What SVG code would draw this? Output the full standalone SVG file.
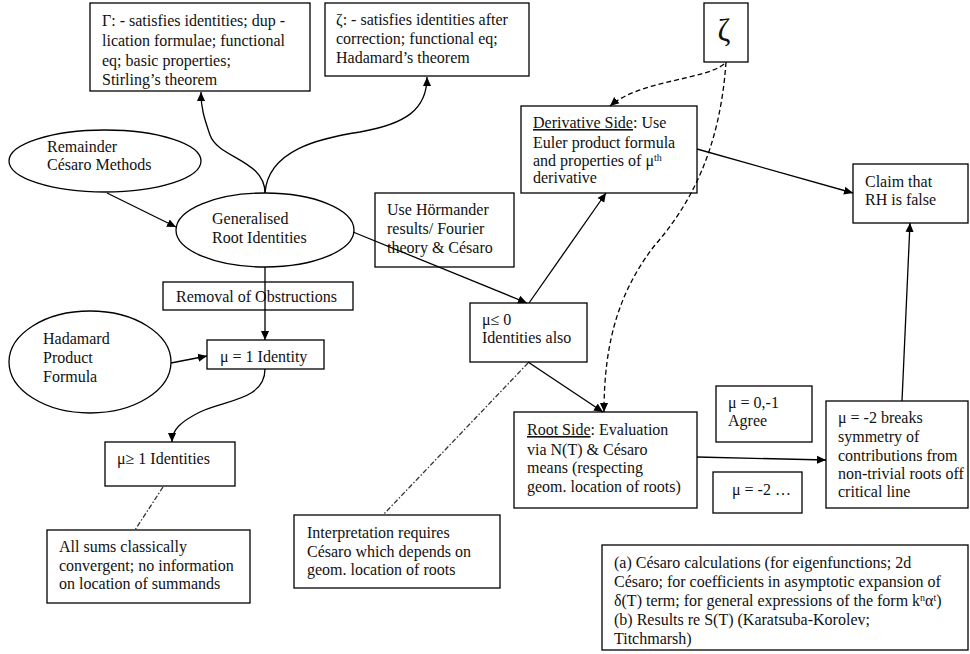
<svg xmlns="http://www.w3.org/2000/svg" width="970" height="654" viewBox="0 0 970 654">
<style>
  .box { fill: #fff; stroke: #000; stroke-width: 1.3; }
  .t { font-family: "Liberation Serif", "Times New Roman", serif; font-size: 16px; fill: #111; }
  .c { fill: none; stroke: #000; stroke-width: 1.3; }
  .dash { stroke-dasharray: 5 3; }
  .dd { stroke-dasharray: 5 2 1.5 2; stroke: #333; }
  .u { text-decoration: underline; }
  .sup { font-size: 10px; }
</style>
<defs>
  <marker id="arr" viewBox="0 0 10 10" refX="10" refY="5" markerWidth="9" markerHeight="9" markerUnits="userSpaceOnUse" orient="auto">
    <path d="M0,0.5 L10,5 L0,9.5 z" fill="#000"/>
  </marker>
</defs>
<rect width="970" height="654" fill="#fff"/>

<g id="gamma">
  <rect class="box" x="90" y="3" width="220" height="88"/>
  <text class="t" x="102" y="26">Γ: - satisfies identities;  dup -</text>
  <text class="t" x="102" y="46">lication formulae; functional</text>
  <text class="t" x="102" y="66">eq; basic properties;</text>
  <text class="t" x="102" y="85">Stirling’s  theorem</text>
</g>
<g id="zetaIdent">
  <rect class="box" x="325" y="3" width="204" height="73"/>
  <text class="t" x="336" y="25">ζ: - satisfies identities after</text>
  <text class="t" x="336" y="44">correction; functional eq;</text>
  <text class="t" x="336" y="63">Hadamard’s theorem</text>
</g>
<g id="zeta">
  <rect class="box" x="704" y="3" width="44" height="59"/>
  <text class="t" x="724" y="41" text-anchor="middle" style="font-size:31px">ζ</text>
</g>
<g id="derivative">
  <rect class="box" x="521" y="106" width="176" height="87"/>
  <text class="t" x="533" y="128"><tspan class="u">Derivative Side</tspan>: Use</text>
  <text class="t" x="533" y="148">Euler product formula</text>
  <text class="t" x="533" y="166">and properties of μ<tspan class="sup" dy="-5">th</tspan></text>
  <text class="t" x="533" y="183">derivative</text>
</g>
<g id="claim">
  <rect class="box" x="853" y="164" width="115" height="59"/>
  <text class="t" x="865" y="187">Claim that</text>
  <text class="t" x="865" y="205">RH is false</text>
</g>
<g id="remainder">
  <ellipse class="box" cx="105" cy="161" rx="96" ry="31"/>
  <text class="t" x="47" y="152">Remainder</text>
  <text class="t" x="47" y="170">Césaro Methods</text>
</g>
<g id="generalised">
  <ellipse class="box" cx="265" cy="230" rx="89" ry="37"/>
  <text class="t" x="212" y="224">Generalised</text>
  <text class="t" x="212" y="243">Root Identities</text>
</g>
<g id="hormander">
  <rect class="box" x="375" y="193" width="139" height="74"/>
  <text class="t" x="387" y="215">Use Hörmander</text>
  <text class="t" x="387" y="234">results/ Fourier</text>
  <text class="t" x="387" y="253">theory &amp; Césaro</text>
</g>
<g id="removal">
  <rect class="box" x="163" y="282" width="190" height="28"/>
  <text class="t" x="176" y="302">Removal of Obstructions</text>
</g>
<g id="hadamard">
  <ellipse class="box" cx="90" cy="362" rx="81" ry="51"/>
  <text class="t" x="43" y="344">Hadamard</text>
  <text class="t" x="43" y="363">Product</text>
  <text class="t" x="43" y="382">Formula</text>
</g>
<g id="mu1">
  <rect class="box" x="207" y="340" width="117" height="29"/>
  <text class="t" x="220" y="362">μ = 1 Identity</text>
</g>
<g id="mugeq1">
  <rect class="box" x="105" y="442" width="130" height="44"/>
  <text class="t" x="117" y="464">μ≥ 1 Identities</text>
</g>
<g id="allsums">
  <rect class="box" x="47" y="530" width="203" height="73"/>
  <text class="t" x="59" y="552">All sums classically</text>
  <text class="t" x="59" y="571">convergent; no information</text>
  <text class="t" x="59" y="589">on location of summands</text>
</g>
<g id="interpretation">
  <rect class="box" x="294" y="515" width="206" height="73"/>
  <text class="t" x="307" y="538">Interpretation requires</text>
  <text class="t" x="307" y="557">Césaro which depends on</text>
  <text class="t" x="307" y="575">geom. location of roots</text>
</g>
<g id="muleq0">
  <rect class="box" x="470" y="303" width="117" height="59"/>
  <text class="t" x="482" y="325">μ≤ 0</text>
  <text class="t" x="482" y="343">Identities also</text>
</g>
<g id="rootside">
  <rect class="box" x="514" y="412" width="183" height="96"/>
  <text class="t" x="527" y="435"><tspan class="u">Root Side</tspan>: Evaluation</text>
  <text class="t" x="527" y="455">via N(T)  &amp; Césaro</text>
  <text class="t" x="527" y="473">means (respecting</text>
  <text class="t" x="527" y="492">geom. location of roots)</text>
</g>
<g id="agree">
  <rect class="box" x="716" y="386" width="96" height="56"/>
  <text class="t" x="728" y="408">μ = 0,-1</text>
  <text class="t" x="728" y="426">Agree</text>
</g>
<g id="mu2dots">
  <rect class="box" x="713" y="472" width="89" height="41"/>
  <text class="t" x="732" y="495">μ = -2  …</text>
</g>
<g id="mu2breaks">
  <rect class="box" x="826" y="401" width="142" height="107"/>
  <text class="t" x="838" y="423">μ = -2 breaks</text>
  <text class="t" x="838" y="442">symmetry of</text>
  <text class="t" x="838" y="461">contributions from</text>
  <text class="t" x="838" y="479">non-trivial roots off</text>
  <text class="t" x="838" y="497">critical line</text>
</g>
<g id="notes">
  <rect class="box" x="602" y="545" width="366" height="105"/>
  <text class="t" x="614" y="568">(a) Césaro calculations (for eigenfunctions; 2d</text>
  <text class="t" x="614" y="587">Césaro; for coefficients in asymptotic expansion of</text>
  <text class="t" x="614" y="606">δ(T) term; for general expressions of the form k<tspan class="sup" dy="-5">n</tspan><tspan dy="5">α</tspan><tspan class="sup" dy="-5">t</tspan><tspan dy="5">)</tspan></text>
  <text class="t" x="614" y="625">(b) Results re S(T)  (Karatsuba-Korolev;</text>
  <text class="t" x="614" y="644">Titchmarsh)</text>
</g>

<g id="connectors">
  <path class="c" d="M107,193 L176,227" marker-end="url(#arr)"/>
  <path class="c" d="M265,193 C265,160 218,158 210,135 C205,120 201,110 201,92" marker-end="url(#arr)"/>
  <path class="c" d="M265,193 C268,150 320,138 360,132 C405,124 427,110 427,77" marker-end="url(#arr)"/>
  <path class="c" d="M265,267 L265,340" marker-end="url(#arr)"/>
  <path class="c" d="M171,363 L207,356" marker-end="url(#arr)"/>
  <path class="c" d="M265,369 C265,400 225,400 200,412 C180,422 172,430 172,442" marker-end="url(#arr)"/>
  <path class="c" d="M353,232 L527,303" marker-end="url(#arr)"/>
  <path class="c" d="M529,303 L606,193" marker-end="url(#arr)"/>
  <path class="c" d="M528,362 L603,412" marker-end="url(#arr)"/>
  <path class="c dash" d="M724,64 C705,80 640,80 610,106" marker-end="url(#arr)"/>
  <path class="c dash" d="M726,62 C720,150 690,205 655,245 C620,290 604,340 604,412" marker-end="url(#arr)"/>
  <path class="c" d="M697,149 L853,193" marker-end="url(#arr)"/>
  <path class="c" d="M697,457 L826,460" marker-end="url(#arr)"/>
  <path class="c" d="M902,401 L910,223" marker-end="url(#arr)"/>
  <path class="c dd" d="M163,487 L135,530"/>
  <path class="c dd" d="M528,363 L383,515"/>
</g>
</svg>
